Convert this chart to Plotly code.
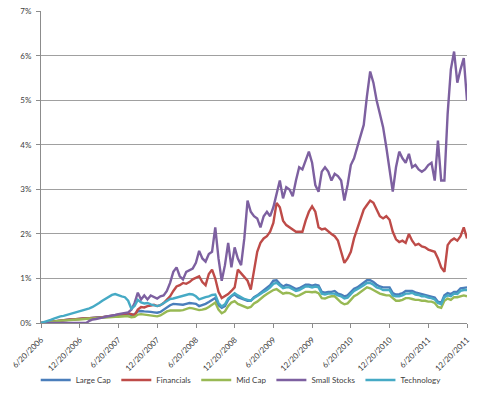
import pandas as pd
import plotly.graph_objects as go

# Semi-monthly observation dates (133 points) from 6/20/2006 to 12/20/2011
DATES = pd.date_range("2006-06-20", "2011-12-20", periods=133)

TICK_DATES = ["2006-06-20", "2006-12-20", "2007-06-20", "2007-12-20", "2008-06-20", "2008-12-20",
              "2009-06-20", "2009-12-20", "2010-06-20", "2010-12-20", "2011-06-20", "2011-12-20"]
TICK_LABELS = ["6/20/2006", "12/20/2006", "6/20/2007", "12/20/2007", "6/20/2008", "12/20/2008",
               "6/20/2009", "12/20/2009", "6/20/2010", "12/20/2010", "6/20/2011", "12/20/2011"]
Y_TICKS = [0, 1, 2, 3, 4, 5, 6, 7]
Y_TICK_LABELS = ["0%", "1%", "2%", "3%", "4%", "5%", "6%", "7%"]

large_cap = [0, 0.01, 0.02, 0.03, 0.04, 0.05, 0.06, 0.06, 0.07, 0.08, 0.08, 0.09, 0.1, 0.1, 0.11, 0.11,
             0.12, 0.12, 0.13, 0.13, 0.14, 0.14, 0.15, 0.16, 0.17, 0.18, 0.19, 0.2, 0.18, 0.2, 0.26, 0.27,
             0.26, 0.26, 0.25, 0.24, 0.23, 0.25, 0.3, 0.36, 0.4, 0.43, 0.42, 0.42, 0.41, 0.43, 0.45, 0.44,
             0.43, 0.38, 0.4, 0.43, 0.47, 0.52, 0.56, 0.4, 0.34, 0.38, 0.52, 0.6, 0.64, 0.58, 0.55, 0.52,
             0.5, 0.5, 0.58, 0.62, 0.68, 0.74, 0.78, 0.85, 0.95, 0.96, 0.88, 0.82, 0.86, 0.84, 0.8, 0.76,
             0.78, 0.82, 0.86, 0.86, 0.84, 0.86, 0.84, 0.7, 0.68, 0.7, 0.7, 0.72, 0.66, 0.64, 0.6, 0.62,
             0.7, 0.77, 0.8, 0.85, 0.9, 0.96, 0.96, 0.92, 0.86, 0.82, 0.8, 0.8, 0.8, 0.67, 0.64, 0.65,
             0.67, 0.72, 0.72, 0.72, 0.69, 0.67, 0.65, 0.64, 0.62, 0.6, 0.57, 0.48, 0.45, 0.62, 0.67, 0.65,
             0.7, 0.7, 0.78, 0.79, 0.8]

financials = [0, 0.01, 0.02, 0.03, 0.04, 0.05, 0.06, 0.07, 0.07, 0.08, 0.08, 0.09, 0.09, 0.1, 0.1, 0.11,
              0.11, 0.12, 0.12, 0.13, 0.14, 0.15, 0.16, 0.17, 0.18, 0.2, 0.21, 0.22, 0.2, 0.17, 0.3, 0.36,
              0.35, 0.38, 0.39, 0.41, 0.38, 0.4, 0.45, 0.52, 0.6, 0.72, 0.82, 0.85, 0.9, 0.88, 0.92, 0.98,
              1.02, 1.05, 0.92, 0.85, 1.1, 1.2, 1.0, 0.7, 0.56, 0.6, 0.65, 0.72, 0.8, 1.2, 1.12, 1.05,
              0.95, 0.75, 1.2, 1.6, 1.8, 1.9, 1.95, 2.05, 2.25, 2.7, 2.6, 2.3, 2.2, 2.15, 2.1, 2.05,
              2.05, 2.05, 2.3, 2.5, 2.62, 2.5, 2.15, 2.1, 2.12, 2.05, 2.0, 1.95, 1.85, 1.6, 1.35, 1.45,
              1.6, 1.9, 2.1, 2.3, 2.55, 2.65, 2.75, 2.7, 2.55, 2.4, 2.35, 2.4, 2.32, 2.05, 1.88, 1.82,
              1.85, 1.8, 2.0, 1.85, 1.75, 1.78, 1.72, 1.7, 1.65, 1.62, 1.6, 1.45, 1.25, 1.15, 1.75, 1.85,
              1.9, 1.85, 1.95, 2.15, 1.9]

mid_cap = [0, 0.01, 0.02, 0.03, 0.04, 0.05, 0.05, 0.06, 0.06, 0.07, 0.07, 0.08, 0.08, 0.09, 0.09, 0.1,
           0.1, 0.11, 0.11, 0.12, 0.12, 0.13, 0.13, 0.14, 0.14, 0.15, 0.15, 0.15, 0.13, 0.14, 0.19, 0.2,
           0.19, 0.18, 0.17, 0.16, 0.15, 0.17, 0.22, 0.26, 0.28, 0.28, 0.27, 0.28, 0.29, 0.32, 0.34, 0.33,
           0.31, 0.29, 0.3, 0.32, 0.36, 0.42, 0.46, 0.3, 0.22, 0.26, 0.38, 0.46, 0.49, 0.43, 0.4, 0.37,
           0.34, 0.36, 0.44, 0.48, 0.55, 0.6, 0.65, 0.7, 0.74, 0.76, 0.7, 0.66, 0.68, 0.67, 0.64, 0.6,
           0.62, 0.67, 0.7, 0.7, 0.69, 0.7, 0.67, 0.56, 0.55, 0.58, 0.6, 0.6, 0.52, 0.46, 0.42, 0.44,
           0.52, 0.6, 0.64, 0.7, 0.76, 0.8, 0.78, 0.74, 0.7, 0.66, 0.64, 0.62, 0.62, 0.55, 0.5, 0.5,
           0.52, 0.56, 0.56, 0.54, 0.52, 0.52, 0.5, 0.5, 0.48, 0.48, 0.45, 0.36, 0.34, 0.5, 0.55, 0.52,
           0.58, 0.58, 0.6, 0.62, 0.6]

small_stocks = [0, 0, 0, 0, 0, 0, 0, 0, 0, 0, 0, 0, 0, 0, 0, 0.05,
                0.08, 0.09, 0.1, 0.12, 0.14, 0.15, 0.16, 0.18, 0.2, 0.21, 0.22, 0.24, 0.3, 0.45, 0.68, 0.53,
                0.62, 0.53, 0.62, 0.58, 0.55, 0.6, 0.62, 0.72, 0.9, 1.15, 1.25, 1.05, 0.98, 1.15, 1.18, 1.22,
                1.35, 1.62, 1.45, 1.38, 1.55, 1.6, 2.15, 1.45, 0.95, 1.3, 1.8, 1.25, 1.7, 1.45, 1.3, 1.9,
                2.75, 2.5, 2.4, 2.35, 2.15, 2.4, 2.5, 2.4, 2.6, 2.9, 3.2, 2.8, 3.05, 3.0, 2.85, 3.2,
                3.5, 3.45, 3.65, 3.85, 3.6, 3.1, 2.95, 3.4, 3.5, 3.4, 3.2, 3.35, 3.3, 3.2, 2.75, 3.1,
                3.55, 3.7, 3.95, 4.2, 4.45, 5.1, 5.65, 5.4, 5.0, 4.7, 4.4, 3.95, 3.4, 2.95, 3.5, 3.85,
                3.7, 3.6, 3.8, 3.5, 3.55, 3.45, 3.4, 3.45, 3.55, 3.6, 3.2, 4.1, 3.2, 3.2, 4.7, 5.7,
                6.1, 5.4, 5.7, 5.95, 5.0]

technology = [0, 0.02, 0.04, 0.07, 0.1, 0.13, 0.15, 0.16, 0.18, 0.2, 0.22, 0.24, 0.26, 0.28, 0.3, 0.33,
              0.36, 0.4, 0.45, 0.5, 0.54, 0.58, 0.63, 0.65, 0.62, 0.6, 0.58, 0.5, 0.32, 0.38, 0.52, 0.46,
              0.44, 0.45, 0.42, 0.4, 0.38, 0.4, 0.45, 0.5, 0.54, 0.55, 0.57, 0.58, 0.6, 0.63, 0.65, 0.64,
              0.6, 0.53, 0.56, 0.58, 0.6, 0.63, 0.64, 0.45, 0.37, 0.42, 0.55, 0.62, 0.67, 0.62, 0.58, 0.54,
              0.52, 0.5, 0.56, 0.6, 0.65, 0.7, 0.74, 0.8, 0.88, 0.9, 0.84, 0.78, 0.8, 0.8, 0.76, 0.72,
              0.74, 0.78, 0.82, 0.82, 0.8, 0.82, 0.8, 0.66, 0.64, 0.66, 0.66, 0.66, 0.62, 0.6, 0.55, 0.57,
              0.65, 0.72, 0.76, 0.8, 0.85, 0.9, 0.9, 0.86, 0.8, 0.78, 0.74, 0.74, 0.74, 0.62, 0.6, 0.6,
              0.62, 0.66, 0.66, 0.68, 0.64, 0.63, 0.6, 0.6, 0.57, 0.56, 0.53, 0.45, 0.42, 0.58, 0.62, 0.6,
              0.66, 0.65, 0.72, 0.74, 0.74]

SERIES = [
    ("Large Cap", large_cap, "#4A7EBB"),
    ("Financials", financials, "#BE4B48"),
    ("Mid Cap", mid_cap, "#98B954"),
    ("Small Stocks", small_stocks, "#7D60A0"),
    ("Technology", technology, "#46AAC5"),
]

fig = go.Figure()
for name, vals, color in SERIES:
    fig.add_trace(go.Scatter(x=DATES, y=vals, mode="lines", name=name,
                             line=dict(color=color, width=2.4)))

FONT = "Lato, 'Open Sans', sans-serif"
fig.update_layout(
    template="none",
    width=500, height=393,
    margin=dict(l=41, r=33, t=11, b=70, pad=0, autoexpand=False),
    paper_bgcolor="white", plot_bgcolor="white",
    font=dict(family=FONT, size=8, color="#404040"),
    showlegend=True,
    legend=dict(orientation="h", xref="paper", x=0.47, xanchor="center",
                yref="container", y=0.033, yanchor="middle",
                bgcolor="rgba(0,0,0,0)", font=dict(size=8, color="#404040"),
                itemwidth=30, tracegroupgap=0),
    xaxis=dict(type="date", range=[TICK_DATES[0], TICK_DATES[-1]], automargin=False,
               tickmode="array", tickvals=TICK_DATES, ticktext=TICK_LABELS,
               tickangle=-45, showgrid=False, showline=True, linecolor="#8c8c8c",
               linewidth=1, ticks="outside", ticklen=4, tickcolor="#8c8c8c", zeroline=False,
               ticklabelstandoff=4, tickfont=dict(size=8, color="#404040")),
    yaxis=dict(range=[0, 7.01], tickmode="array", tickvals=Y_TICKS, ticktext=Y_TICK_LABELS,
               automargin=False, showgrid=True, gridcolor="#a0a0a0", gridwidth=1,
               showline=True, linecolor="#8c8c8c", linewidth=1,
               ticks="outside", ticklen=4, tickcolor="#8c8c8c", zeroline=False,
               ticklabelstandoff=3, tickfont=dict(size=8, color="#404040")),
)

fig.write_html("out.html", config={"displayModeBar": False},
               post_script="document.body.style.margin='0';document.body.style.padding='0';")
